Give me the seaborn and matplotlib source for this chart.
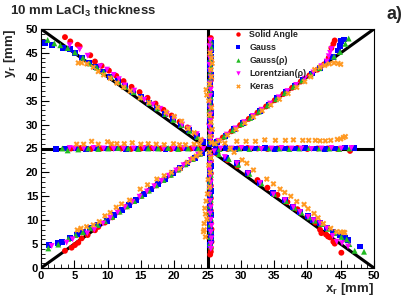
import numpy as np
import pandas as pd
import seaborn as sns
import matplotlib.pyplot as plt

# reconstructed positions, one inner list per arm of the star:
# upper-left diag, upper-right diag, lower-left diag, lower-right diag,
# left horizontal, right horizontal, upper vertical, lower vertical
sa_x = [[3.6, 4.4, 5.5, 5.8, 7.4, 8.1, 9.1, 10.2, 11.3, 12.4, 13.6, 14.8, 16.0, 17.2, 18.4, 19.6, 20.8, 22.0, 23.2, 24.3],
        [26.0, 27.3, 28.6, 29.9, 31.2, 32.5, 33.8, 35.1, 36.4, 37.7, 39.0, 40.3, 41.5, 42.5, 43.2, 43.6, 43.9, 44.1],
        [3.6, 4.6, 5.1, 5.6, 6.1, 7.0, 8.1, 8.6, 9.6, 10.7, 11.8, 12.9, 14.0, 15.1, 16.2, 17.3, 18.4, 19.5, 20.6, 21.7, 22.8, 23.9],
        [26.5, 28.0, 29.5, 31.0, 32.5, 34.0, 35.5, 37.0, 38.5, 40.0, 41.2, 41.9, 42.1, 42.8, 43.1, 43.4, 43.9, 44.1, 45.1],
        [4.5, 6.0, 7.5, 9.0, 10.5, 12.0, 13.5, 15.0, 16.5, 18.0, 19.5, 21.0, 22.5, 24.0],
        [26.5, 28.0, 29.5, 31.0, 32.5, 34.0, 35.5, 37.0, 38.5, 40.0, 41.5, 43.0, 44.5, 46.4],
        [25.4, 25.5, 25.4, 25.3, 25.5, 25.4, 25.5, 25.4, 25.5, 25.4, 25.5, 25.5, 25.4, 25.5, 25.4, 25.5, 25.5, 25.5],
        [25.4, 25.5, 25.4, 25.5, 25.4, 25.5, 25.4, 25.5, 25.4, 25.5, 25.4, 25.5, 25.6, 25.5, 25.6, 25.5, 25.5, 25.4]]
sa_y = [[48.3, 47.4, 46.7, 46.4, 44.5, 43.2, 42.3, 41.3, 40.2, 39.1, 37.9, 36.8, 35.6, 34.4, 33.1, 31.9, 30.6, 29.4, 28.0, 26.5],
        [26.1, 27.3, 28.6, 29.9, 31.2, 32.5, 33.8, 35.1, 36.4, 37.7, 39.0, 40.3, 41.5, 42.6, 44.0, 46.0, 46.9, 47.6],
        [3.6, 4.25, 4.8, 5.3, 6.2, 6.9, 7.9, 8.6, 9.5, 10.6, 11.8, 12.9, 14.0, 15.1, 16.2, 17.3, 18.4, 19.5, 20.6, 21.7, 22.8, 23.9],
        [23.9, 22.6, 21.3, 19.9, 18.4, 16.8, 15.3, 13.8, 12.3, 10.8, 9.5, 8.0, 7.3, 7.0, 6.6, 6.4, 5.5, 5.1, 3.2],
        [25.0, 25.1, 24.9, 25.0, 25.1, 25.0, 24.9, 25.0, 25.1, 25.0, 24.9, 25.0, 25.0, 25.1],
        [25.0, 24.9, 25.0, 25.1, 25.0, 24.9, 25.0, 25.0, 25.1, 24.9, 25.0, 25.0, 24.9, 24.5],
        [26.3, 27.6, 28.9, 30.2, 31.5, 32.8, 34.1, 35.4, 36.7, 38.0, 39.3, 40.6, 41.9, 43.2, 44.5, 45.8, 47.2, 48.1],
        [23.7, 22.4, 21.1, 19.8, 18.5, 17.2, 15.9, 14.6, 13.3, 12.0, 10.7, 9.4, 8.1, 6.8, 5.5, 4.2, 3.4, 2.8]]

gauss_x = [[0.6, 1.6, 3.3, 4.3, 5.1, 6.1, 7.2, 8.2, 9.3, 10.4, 11.5, 12.6, 13.8, 15.0, 16.2, 17.4, 18.6, 19.8, 21.0, 22.2, 23.4, 24.4],
           [26.4, 27.7, 29.0, 30.3, 31.6, 32.9, 34.2, 35.5, 36.8, 38.1, 39.4, 40.7, 41.9, 43.0, 43.9, 44.6, 44.9, 45.1, 45.5],
           [1.25, 2.6, 3.1, 4.35, 5.35, 6.35, 7.35, 8.6, 9.85, 11.0, 12.1, 13.2, 14.3, 15.4, 16.5, 17.6, 18.7, 19.8, 20.9, 22.0, 23.1, 24.2],
           [26.3, 27.8, 29.4, 31.1, 32.9, 34.9, 36.6, 37.9, 38.9, 40.1, 40.9, 41.9, 42.9, 43.9, 44.9, 45.6, 46.1, 47.9],
           [2.3, 3.6, 5.2, 6.7, 8.2, 9.7, 11.2, 12.7, 14.2, 15.7, 17.2, 18.7, 20.2, 21.7, 23.2],
           [26.2, 27.7, 29.2, 30.7, 32.2, 33.7, 35.2, 36.7, 38.2, 39.7, 41.2, 42.7, 44.2, 45.7, 47.0],
           [25.3, 25.4, 25.5, 25.4, 25.3, 25.5, 25.4, 25.4, 25.5, 25.3, 25.4, 25.5, 25.4, 25.4, 25.5, 25.6, 25.6, 25.6],
           [25.3, 25.4, 25.5, 25.4, 25.3, 25.4, 25.5, 25.4, 25.3, 25.4, 25.5, 25.4, 25.4, 25.5, 25.5, 25.4]]
gauss_y = [[47.1, 46.6, 46.0, 45.9, 45.0, 43.9, 42.9, 42.0, 41.1, 40.0, 39.1, 38.0, 36.9, 35.8, 34.6, 33.5, 32.2, 31.1, 29.9, 28.8, 27.6, 26.3],
           [26.4, 27.7, 29.0, 30.3, 31.6, 32.9, 34.2, 35.5, 36.8, 38.1, 39.4, 40.7, 41.9, 43.1, 44.2, 45.5, 46.4, 47.4, 47.8],
           [4.8, 5.3, 5.5, 6.2, 7.0, 7.6, 8.4, 9.1, 9.9, 11.0, 12.1, 13.2, 14.3, 15.4, 16.5, 17.6, 18.7, 19.8, 20.9, 22.0, 23.1, 24.1],
           [24.2, 23.0, 21.9, 19.8, 17.8, 15.6, 14.2, 12.8, 11.8, 10.8, 10.1, 9.4, 8.4, 7.6, 6.8, 6.3, 5.8, 4.5],
           [24.9, 25.0, 25.0, 24.9, 25.1, 25.0, 25.0, 24.9, 25.0, 25.1, 25.0, 24.9, 25.0, 25.0, 25.1],
           [25.0, 25.1, 24.9, 25.0, 25.0, 25.1, 24.9, 25.0, 25.0, 25.1, 25.0, 24.9, 25.0, 25.2, 25.1],
           [26.0, 27.3, 28.6, 29.9, 31.2, 32.5, 33.8, 35.1, 36.4, 37.7, 39.0, 40.3, 41.6, 42.9, 44.2, 45.5, 46.6, 47.1],
           [24.0, 22.7, 21.4, 20.1, 18.8, 17.5, 16.2, 14.9, 13.6, 12.3, 11.0, 9.7, 8.4, 7.1, 5.8, 4.8]]

gaussrho_x = [[1.0, 2.0, 2.9, 4.0, 5.1, 6.3, 7.3, 8.4, 9.4, 10.5, 11.6, 12.7, 13.9, 15.1, 16.3, 17.5, 18.7, 19.9, 21.1, 22.3, 23.5],
              [26.2, 27.5, 28.8, 30.1, 31.4, 32.7, 34.0, 35.3, 36.6, 37.9, 39.2, 40.5, 41.8, 43.0, 44.0, 44.9, 45.7, 46.2],
              [1.1, 2.6, 4.1, 5.2, 6.3, 7.4, 8.5, 9.6, 10.7, 11.8, 12.9, 14.0, 15.1, 16.2, 17.3, 18.4, 19.5, 20.6, 21.7, 22.8, 23.9],
              [26.7, 28.2, 29.6, 31.3, 33.1, 35.0, 36.8, 38.1, 39.1, 40.3, 41.1, 42.1, 43.1, 44.1, 45.1, 45.9, 46.3, 47.1, 48.5],
              [3.2, 4.0, 5.6, 7.1, 8.6, 10.1, 11.6, 13.1, 14.6, 16.1, 17.6, 19.1, 20.6, 22.1, 23.6],
              [26.8, 28.3, 29.8, 31.3, 32.8, 34.3, 35.8, 37.3, 38.8, 40.3, 41.8, 43.3, 44.8, 46.3],
              [25.4, 25.3, 25.4, 25.5, 25.4, 25.3, 25.4, 25.5, 25.4, 25.3, 25.4, 25.4, 25.5, 25.4, 25.5, 25.6, 25.5],
              [25.4, 25.3, 25.4, 25.5, 25.4, 25.3, 25.4, 25.5, 25.4, 25.4, 25.5, 25.4, 25.5, 25.5, 25.4, 25.5]]
gaussrho_y = [[47.7, 47.0, 46.6, 46.0, 45.1, 44.0, 42.8, 41.9, 41.0, 40.0, 39.0, 37.9, 36.8, 35.7, 34.5, 33.4, 32.2, 31.0, 29.9, 28.7, 27.4],
              [26.2, 27.5, 28.8, 30.1, 31.4, 32.7, 34.0, 35.3, 36.6, 37.9, 39.2, 40.5, 41.8, 43.1, 44.2, 45.2, 46.9, 48.0],
              [4.1, 4.9, 6.1, 6.9, 7.5, 8.3, 9.0, 9.8, 10.7, 11.8, 12.9, 14.0, 15.1, 16.2, 17.3, 18.4, 19.5, 20.6, 21.7, 22.8, 23.9],
              [23.8, 22.8, 21.6, 19.7, 17.7, 15.5, 14.0, 12.6, 11.6, 10.6, 9.9, 9.2, 8.2, 7.3, 6.5, 6.0, 5.0, 3.6, 3.4],
              [25.0, 24.6, 24.8, 25.0, 24.9, 25.0, 25.1, 25.0, 24.9, 25.0, 25.0, 25.1, 24.9, 25.0, 25.0],
              [24.9, 25.0, 25.0, 24.9, 25.1, 25.0, 25.0, 24.9, 25.0, 25.1, 25.0, 25.0, 24.9, 25.0],
              [26.6, 27.9, 29.2, 30.5, 31.8, 33.1, 34.4, 35.7, 37.0, 38.3, 39.6, 40.9, 42.2, 43.5, 44.8, 46.1, 47.3],
              [23.4, 22.1, 20.8, 19.5, 18.2, 16.9, 15.6, 14.3, 13.0, 11.7, 10.4, 9.1, 7.8, 6.5, 5.2, 4.5]]

lorentz_x = [[4.3, 5.8, 7.0, 8.9, 9.9, 10.9, 11.7, 12.6, 14.0, 15.5, 16.8, 17.9, 18.9, 20.0, 21.2, 22.2, 23.4, 24.1],
             [26.6, 27.9, 29.2, 30.5, 31.8, 33.1, 34.4, 35.7, 37.0, 38.3, 39.6, 40.9, 42.1, 42.9, 43.2, 43.4, 43.6],
             [1.6, 3.85, 4.75, 6.95, 8.0, 9.3, 10.4, 11.5, 12.6, 13.7, 14.8, 15.9, 17.0, 18.1, 19.2, 20.3, 21.4, 22.5, 23.6],
             [26.0, 27.6, 29.4, 31.1, 32.9, 34.9, 36.6, 37.9, 38.9, 40.1, 40.9, 41.9, 42.9, 43.8, 44.4, 45.2, 46.1],
             [4.3, 5.0, 6.4, 7.9, 9.4, 10.9, 12.4, 13.9, 15.4, 16.9, 18.4, 19.9, 21.4, 22.9, 24.4],
             [27.0, 28.6, 30.1, 31.6, 33.1, 34.6, 36.1, 37.6, 39.1, 40.6, 42.1, 43.6, 45.1, 46.6],
             [25.5, 25.4, 25.3, 25.4, 25.5, 25.4, 25.3, 25.4, 25.5, 25.4, 25.5, 25.4, 25.3, 25.4, 25.4, 25.3, 25.4],
             [25.5, 25.4, 25.3, 25.4, 25.5, 25.4, 25.3, 25.4, 25.5, 25.4, 25.5, 25.6, 25.5, 25.6, 25.5, 25.5]]
lorentz_y = [[46.6, 45.7, 44.4, 42.2, 41.5, 40.4, 39.5, 38.2, 37.1, 35.2, 34.2, 33.3, 32.2, 31.4, 30.0, 29.2, 28.0, 26.6],
             [26.6, 27.9, 29.2, 30.5, 31.8, 33.1, 34.4, 35.7, 37.0, 38.3, 39.6, 40.9, 42.2, 43.2, 44.3, 45.0, 45.8],
             [4.6, 5.3, 6.0, 7.25, 8.0, 9.3, 10.5, 11.6, 12.7, 13.8, 14.9, 16.0, 17.1, 18.2, 19.3, 20.4, 21.5, 22.6, 23.7],
             [24.4, 23.2, 21.9, 19.8, 17.8, 15.4, 14.2, 12.7, 11.7, 10.7, 10.0, 9.35, 8.3, 6.7, 5.5, 5.2, 4.5],
             [25.1, 25.0, 25.0, 25.1, 25.0, 24.9, 25.0, 25.0, 25.1, 24.9, 25.0, 25.0, 25.1, 25.0, 24.9],
             [25.0, 25.0, 25.1, 25.0, 24.9, 25.0, 25.1, 25.0, 25.0, 24.9, 25.0, 25.1, 25.0, 25.1],
             [26.9, 28.2, 29.5, 30.8, 32.1, 33.4, 34.7, 36.0, 37.3, 38.6, 39.9, 41.2, 42.5, 43.8, 45.1, 46.4, 47.6],
             [23.1, 21.8, 20.5, 19.2, 17.9, 16.6, 15.3, 14.0, 12.7, 11.4, 10.1, 8.8, 7.5, 6.2, 5.0, 4.0]]

keras_x = [[5.6, 6.1, 6.9, 7.85, 8.6, 9.4, 10.4, 11.4, 12.4, 13.4, 14.9, 16.2, 17.5, 18.8, 20.0, 21.1, 22.1, 23.0, 24.0],
           [26.8, 28.0, 29.3, 30.6, 31.9, 33.2, 34.5, 35.8, 37.1, 38.4, 39.6, 40.5, 41.1, 41.9, 42.6, 43.3, 44.0, 44.6, 45.0],
           [5.45, 6.0, 6.85, 7.85, 8.75, 9.6, 10.4, 11.3, 12.1, 13.3, 14.9, 16.0, 17.4, 18.5, 19.6, 20.9, 22.0, 22.8, 23.3, 23.9],
           [28.4, 29.0, 30.2, 30.9, 31.9, 33.9, 34.9, 35.9, 36.6, 37.5, 38.4, 39.5, 40.1, 41.0, 41.6, 42.4, 43.5, 44.4, 45.0, 45.4, 45.6],
           [5.35, 6.4, 7.6, 8.6, 10.0, 10.6, 11.4, 12.5, 13.7, 15.0, 16.1, 17.3, 18.5, 19.9, 20.8, 21.7, 23.0, 23.8],
           [26.1, 27.6, 29.4, 30.8, 32.2, 33.6, 35.2, 36.7, 37.9, 39.3, 40.2, 41.2, 41.9, 42.7, 43.5, 44.5, 45.0, 45.4, 45.7],
           [25.6, 25.4, 25.7, 25.5, 25.3, 25.6, 25.2, 24.9, 24.8, 25.3, 25.6, 25.5, 25.7, 25.6, 25.4],
           [25.3, 25.5, 25.2, 25.4, 25.1, 25.3, 25.0, 24.8, 24.6, 24.7, 24.9, 24.5, 24.5, 24.4, 24.7]]
keras_y = [[42.9, 42.9, 42.7, 42.0, 41.1, 40.4, 39.7, 38.7, 37.8, 37.0, 35.6, 34.6, 33.6, 32.6, 31.7, 30.7, 29.2, 28.3, 26.9],
           [26.6, 27.8, 29.0, 30.3, 31.6, 32.9, 34.1, 35.3, 36.5, 37.8, 39.0, 40.0, 41.5, 42.0, 42.4, 42.7, 42.9, 42.8, 42.6],
           [7.95, 8.3, 8.65, 9.0, 9.7, 10.9, 11.6, 12.7, 13.4, 14.2, 16.5, 17.4, 18.6, 19.3, 20.0, 20.8, 22.1, 22.9, 23.4, 24.0],
           [25.0, 24.2, 22.6, 21.9, 20.5, 18.6, 17.6, 16.5, 15.8, 15.0, 13.9, 13.3, 12.4, 11.4, 10.5, 9.3, 8.3, 7.6, 7.5, 7.5, 7.4],
           [25.9, 25.9, 26.5, 25.9, 26.4, 26.0, 26.0, 26.0, 26.2, 25.9, 26.0, 25.9, 25.8, 26.0, 25.8, 25.8, 25.9, 25.9],
           [26.0, 26.1, 26.5, 26.5, 26.5, 26.8, 26.7, 26.7, 26.8, 26.7, 26.7, 26.7, 26.6, 26.6, 26.7, 26.9, 27.0, 27.3, 27.5],
           [26.2, 27.5, 29.0, 30.5, 32.0, 33.5, 35.0, 36.2, 37.3, 38.5, 40.0, 41.5, 42.8, 43.9, 45.0],
           [24.2, 23.0, 21.5, 20.0, 18.5, 17.0, 15.5, 14.0, 12.5, 11.3, 10.2, 9.3, 8.0, 7.6, 6.5]]

methods = ["Solid Angle", "Gauss", "Gauss(\u03c1)", "Lorentzian(\u03c1)", "Keras"]
colors = ["#ff0000", "#0000ff", "#22bb22", "#ff00ff", "#ff9922"]
markers = ["o", "s", "^", "v", "X"]

# true source positions (the four black lines)
line_x = [[0, 50], [0, 50], [0, 50], [25, 25]]
line_y = [[0, 50], [50, 0], [25, 25], [0, 50]]

rows = []
for name, xs, ys in zip(methods, [sa_x, gauss_x, gaussrho_x, lorentz_x, keras_x],
                        [sa_y, gauss_y, gaussrho_y, lorentz_y, keras_y]):
    for ax_, ay_ in zip(xs, ys):
        assert len(ax_) == len(ay_)
        for a, b in zip(ax_, ay_):
            rows.append((name, a, b))
df = pd.DataFrame(rows, columns=["method", "x", "y"])

sns.set_style("ticks")
plt.rcParams["font.family"] = ["Liberation Sans", "DejaVu Sans"]
plt.rcParams["mathtext.default"] = "regular"

fig = plt.figure(figsize=(4.15, 3.0), dpi=100)
ax = fig.add_axes([41 / 415, 32 / 300, 333 / 415, 239 / 300])

for lx, ly in zip(line_x, line_y):
    ax.plot(lx, ly, color="black", lw=2.2, zorder=1, solid_capstyle="butt")

sns.scatterplot(data=df, x="x", y="y", hue="method", style="method",
                palette=dict(zip(methods, colors)), markers=dict(zip(methods, markers)),
                hue_order=methods, style_order=methods,
                s=18, linewidth=0, ax=ax, zorder=2)

ax.set_xlim(0, 50)
ax.set_ylim(0, 50)
ax.set_xticks(np.arange(0, 51, 5))
ax.set_yticks(np.arange(0, 51, 5))
ax.set_xticks(np.arange(0, 51, 1), minor=True)
ax.set_yticks(np.arange(0, 51, 1), minor=True)
ax.tick_params(which="both", direction="in", top=False, right=False, colors="black",
               labelsize=8, pad=2)
ax.tick_params(which="major", length=6, width=0.8)
ax.tick_params(which="minor", length=3, width=0.6)
for lab in ax.get_xticklabels() + ax.get_yticklabels():
    lab.set_fontweight("bold")
for s in ax.spines.values():
    s.set_linewidth(0.8)
    s.set_color("black")

ax.set_xlabel("x$_r$ [mm]", fontsize=9.5, fontweight="bold", loc="right")
ax.set_ylabel("y$_r$ [mm]", fontsize=9.5, fontweight="bold", loc="top")
ax.xaxis.set_label_coords(1.0, -0.055)
ax.yaxis.set_label_coords(-0.07, 1.0)

sns.move_legend(ax, "upper left", bbox_to_anchor=(0.577, 0.995), frameon=False, title="",
                prop={"weight": "bold", "size": 6.4}, handletextpad=0.6,
                labelspacing=0.45, borderpad=0, borderaxespad=0, handlelength=1.2,
                markerscale=0.75)

fig.text(10 / 415, 1 - 15 / 300, "10 mm LaCl$_3$ thickness", fontsize=9.5,
         fontweight="bold", va="baseline")
fig.text(386 / 415, 1 - 19 / 300, "a)", fontsize=13, fontweight="bold", va="baseline")

fig.savefig("out.png", dpi=100)
